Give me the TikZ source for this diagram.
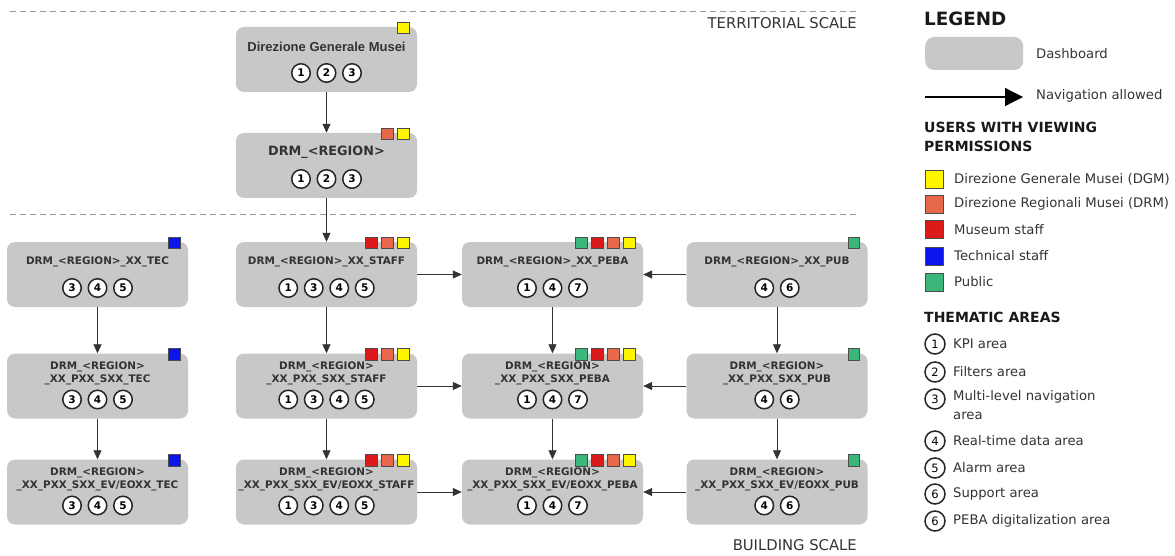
\documentclass[tikz,border=0pt]{standalone}
\usepackage{fontspec}
\setmainfont{DejaVu Sans}
\newfontfamily\arialfont{Liberation Sans}
\usetikzlibrary{arrows.meta,positioning,calc}

\definecolor{boxgray}{HTML}{C8C8C8}
\definecolor{dgmyellow}{HTML}{FFF500}
\definecolor{drmorange}{HTML}{E8694A}
\definecolor{staffred}{HTML}{DD1A1A}
\definecolor{tecblue}{HTML}{0A14EB}
\definecolor{pubgreen}{HTML}{3DB67A}

\tikzset{
	dashboard/.style={shape=rectangle, rounded corners=8pt, fill=boxgray, minimum width=181pt, minimum height=65pt, inner sep=0pt},
	boxtext/.style={font=\fontsize{10.4}{13}\selectfont\bfseries, text=black!80, align=center, inner sep=0pt},
	area/.style={shape=circle, draw=black!85, line width=1.5pt, fill=white, minimum size=18.5pt, inner sep=0pt, font=\fontsize{10.5}{10.5}\selectfont\bfseries},
	user/.style={shape=rectangle, draw=black!70, line width=0.6pt, minimum size=11.5pt, inner sep=0pt},
	nav/.style={-{Triangle[length=9pt,width=8pt]}, draw=black!80, line width=0.8pt},
	scaleline/.style={draw=black!40, dash pattern=on 6pt off 4pt, line width=1pt},
	scaletext/.style={font=\fontsize{14.8}{15}\selectfont, text=black!80, inner sep=0pt},
	leghead/.style={font=\fontsize{14}{19}\selectfont\bfseries, text=black!90, inner sep=0pt, align=left},
	legtext/.style={font=\fontsize{13.2}{19}\selectfont, text=black!80, inner sep=0pt, align=left}
}

\begin{document}
\begin{tikzpicture}[x=1pt, y=-1pt]
	\useasboundingbox (0,0) rectangle (1175,556);

	% scale separators
	\coordinate (terr-l) at (10,12);
	\coordinate (terr-r) at (860,12);
	\coordinate (build-l) at (10,215);
	\coordinate (build-r) at (860,215);
	\draw[scaleline] (terr-l) -- (terr-r);
	\draw[scaleline] (build-l) -- (build-r);
	\path (857,23) node (terr) [scaletext, anchor=east] {TERRITORIAL SCALE};
	\path (857,545) node (build) [scaletext, anchor=east] {BUILDING SCALE};

	% dashboards: name/x/y/label/number of areas/areas/users (right to left)
	\foreach \n/\x/\y/\t/\k/\c/\s in {
		dgm/326.5/59.5/{\arialfont\fontsize{13}{13}\selectfont Direzione Generale Musei}/3/{1,2,3}/{dgmyellow},
		drm/326.5/165.5/{\fontsize{12.8}{13}\selectfont DRM\_<REGION>}/3/{1,2,3}/{dgmyellow,drmorange},
		tec1/97.5/274.5/{DRM\_<REGION>\_XX\_TEC}/3/{3,4,5}/{tecblue},
		tec2/97.5/386/{DRM\_<REGION>\\\_XX\_PXX\_SXX\_TEC}/3/{3,4,5}/{tecblue},
		tec3/97.5/492/{DRM\_<REGION>\\\_XX\_PXX\_SXX\_EV/EOXX\_TEC}/3/{3,4,5}/{tecblue},
		staff1/326.5/274.5/{DRM\_<REGION>\_XX\_STAFF}/4/{1,3,4,5}/{dgmyellow,drmorange,staffred},
		staff2/326.5/386/{DRM\_<REGION>\\\_XX\_PXX\_SXX\_STAFF}/4/{1,3,4,5}/{dgmyellow,drmorange,staffred},
		staff3/326.5/492/{DRM\_<REGION>\\\_XX\_PXX\_SXX\_EV/EOXX\_STAFF}/4/{1,3,4,5}/{dgmyellow,drmorange,staffred},
		peba1/552.5/274.5/{DRM\_<REGION>\_XX\_PEBA}/3/{1,4,7}/{dgmyellow,drmorange,staffred,pubgreen},
		peba2/552.5/386/{DRM\_<REGION>\\\_XX\_PXX\_SXX\_PEBA}/3/{1,4,7}/{dgmyellow,drmorange,staffred,pubgreen},
		peba3/552.5/492/{DRM\_<REGION>\\\_XX\_PXX\_SXX\_EV/EOXX\_PEBA}/3/{1,4,7}/{dgmyellow,drmorange,staffred,pubgreen},
		pub1/777/274.5/{DRM\_<REGION>\_XX\_PUB}/2/{4,6}/{pubgreen},
		pub2/777/386/{DRM\_<REGION>\\\_XX\_PXX\_SXX\_PUB}/2/{4,6}/{pubgreen},
		pub3/777/492/{DRM\_<REGION>\\\_XX\_PXX\_SXX\_EV/EOXX\_PUB}/2/{4,6}/{pubgreen}%
	}{
		\path (\x,\y) node (\n) [dashboard] {};
		\path ([yshift=13pt]\n.center) node (\n-t) [boxtext] {\t};
		\foreach \a [count=\i] in \c
			\path ([xshift={(\i-(\k+1)/2)*25.5pt}, yshift=-13.5pt]\n.center) node (\n-c\i) [area] {\a};
		\foreach \u [count=\j] in \s
			\path ([xshift={-14pt-(\j-1)*16pt}, yshift=-1pt]\n.north east) node (\n-s\j) [user, fill=\u] {};
	}

	% navigation
	\draw[nav] (dgm) -- (drm);
	\draw[nav] (drm) -- (staff1);
	\foreach \a/\b in {tec1/tec2, tec2/tec3, staff1/staff2, staff2/staff3, peba1/peba2, peba2/peba3, pub1/pub2, pub2/pub3}
		\draw[nav] (\a) -- (\b);
	\foreach \r in {1,2,3} {
		\draw[nav] (staff\r) -- (peba\r);
		\draw[nav] (pub\r) -- (peba\r);
	}

	% legend
	\path (924,19) node (legend) [anchor=west, inner sep=0pt, font=\fontsize{18.3}{18}\selectfont\bfseries, text=black!90] {LEGEND};
	\path (925,53.5) node (leg-dash) [dashboard, anchor=west, minimum width=98pt, minimum height=33pt, rounded corners=9pt] {};
	\path (1036,53.5) node (leg-dash-t) [legtext, anchor=west] {Dashboard};
	\coordinate (leg-nav-a) at (925,97);
	\coordinate (leg-nav-b) at (1023,97);
	\draw[-{Triangle[length=18pt,width=18pt]}, line width=1.3pt] (leg-nav-a) -- (leg-nav-b);
	\path (1036,95.5) node (leg-nav-t) [legtext, anchor=west] {Navigation allowed};

	\path (924,122) node (users) [leghead, anchor=north west] {USERS WITH VIEWING\\PERMISSIONS};
	\foreach \y/\u/\t [count=\i] in {179/dgmyellow/Direzione Generale Musei (DGM), 204/drmorange/Direzione Regionali Musei (DRM), 229.5/staffred/Museum staff, 256/tecblue/Technical staff, 282/pubgreen/Public} {
		\path (934,\y) node (leg-u\i) [user, fill=\u, minimum size=18pt, line width=0.8pt] {};
		\path (954,\y) node (leg-u\i-t) [legtext, anchor=west] {\t};
	}

	\path (924,317) node (areas) [leghead, anchor=west] {THEMATIC AREAS};
	\foreach \y/\a/\t [count=\i] in {344/1/KPI area, 372/2/Filters area, 441/4/Real-time data area, 468/5/Alarm area, 494/6/Support area, 521/6/PEBA digitalization area} {
		\path (935,\y) node (leg-a\i) [area, minimum size=20pt, font=\fontsize{11.5}{11.5}\selectfont] {\a};
		\path (953,\y) node (leg-a\i-t) [legtext, anchor=west] {\t};
	}
	\path (935,399) node (leg-a3) [area, minimum size=20pt, font=\fontsize{11.5}{11.5}\selectfont] {3};
	\path (953,390) node (leg-a3-t) [legtext, anchor=north west] {Multi-level navigation\\area};
\end{tikzpicture}
\end{document}
